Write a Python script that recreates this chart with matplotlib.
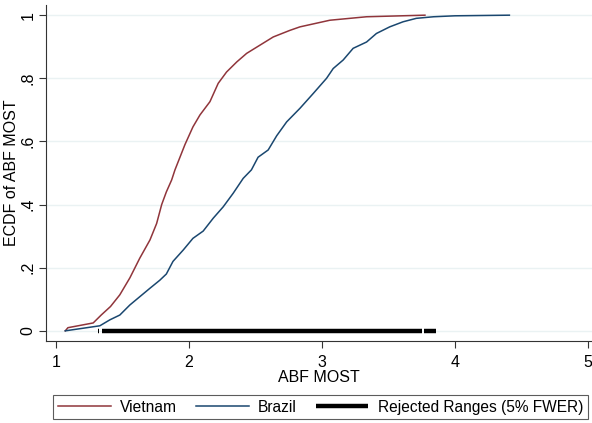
import numpy as np
import matplotlib.pyplot as plt

# ECDF knots
vietnam_x = [1.07, 1.09, 1.28, 1.34, 1.41, 1.48, 1.556, 1.63, 1.707, 1.757, 1.795,
             1.83, 1.87, 1.895, 1.97, 2.03, 2.083, 2.158, 2.22, 2.283, 2.36, 2.434,
             2.534, 2.634, 2.76, 2.835, 3.06, 3.336, 3.775]
vietnam_y = [0.0, 0.01, 0.025, 0.05, 0.077, 0.114, 0.168, 0.23, 0.288, 0.34, 0.40,
             0.44, 0.478, 0.51, 0.59, 0.646, 0.684, 0.726, 0.784, 0.82, 0.852, 0.879,
             0.905, 0.931, 0.952, 0.963, 0.984, 0.995, 1.0]

brazil_x = [1.07, 1.33, 1.406, 1.48, 1.556, 1.63, 1.707, 1.78, 1.83, 1.88, 1.957,
            2.03, 2.107, 2.183, 2.258, 2.333, 2.408, 2.47, 2.52, 2.596, 2.66, 2.735,
            2.835, 2.935, 3.035, 3.085, 3.16, 3.235, 3.336, 3.41, 3.51, 3.61, 3.71,
            3.84, 4.0, 4.41]
brazil_y = [0.0, 0.016, 0.035, 0.05, 0.082, 0.108, 0.135, 0.16, 0.18, 0.22, 0.256,
            0.293, 0.316, 0.357, 0.393, 0.436, 0.483, 0.51, 0.55, 0.573, 0.618, 0.662,
            0.705, 0.752, 0.80, 0.831, 0.858, 0.895, 0.915, 0.942, 0.963, 0.979, 0.99,
            0.995, 0.998, 1.0]

rejected_start = [1.318, 1.343, 3.77]
rejected_end = [1.322, 3.75, 3.86]

yticks = [0, 0.2, 0.4, 0.6, 0.8, 1.0]
ytick_labels = ["0", ".2", ".4", ".6", ".8", "1"]
xticks = [1, 2, 3, 4, 5]

plt.rcParams['font.family'] = ['Liberation Sans', 'DejaVu Sans']

fig = plt.figure(figsize=(5.92, 4.23), dpi=100)
ax = fig.add_axes([0.0777, 0.194, 0.922, 0.794])

for y in yticks:
    ax.axhline(y, color='#EAF2F3', lw=1.0, zorder=0)

ax.plot(vietnam_x, vietnam_y, color='#90353B', lw=1.1, label='Vietnam')
ax.plot(brazil_x, brazil_y, color='#1A476F', lw=1.1, label='Brazil')
for i in range(len(rejected_start)):
    ax.plot([rejected_start[i], rejected_end[i]], [0, 0], color='black', lw=3.2,
            solid_capstyle='butt',
            label='Rejected Ranges (5% FWER)' if i == 1 else None)

ax.set_xlim(0.925, 5.03)
ax.set_ylim(-0.032, 1.032)
ax.set_xticks(xticks)
ax.set_yticks(yticks)
ax.set_yticklabels(ytick_labels, rotation=90, va='center')
ax.tick_params(labelsize=11.5, length=5, width=0.8, color='#333333')
ax.tick_params(axis='x', pad=5)
ax.tick_params(axis='y', pad=2.5)
for s in ['top', 'right']:
    ax.spines[s].set_visible(False)
for s in ['left', 'bottom']:
    ax.spines[s].set_color('#333333')
    ax.spines[s].set_linewidth(0.8)

ax.set_xlabel("ABF MOST", fontsize=11.5, labelpad=0)
ax.set_ylabel("ECDF of ABF MOST", fontsize=11.5)
ax.yaxis.set_label_coords(-0.05, 0.5)

leg = fig.legend(loc='center', bbox_to_anchor=(0.5414, 0.0378), ncol=3,
                 fontsize=11.2, fancybox=False, edgecolor='#333333',
                 handlelength=3.4, columnspacing=1.2, handletextpad=0.6,
                 borderpad=0.3)
leg.get_frame().set_linewidth(0.8)

fig.savefig("out.png", dpi=100)
